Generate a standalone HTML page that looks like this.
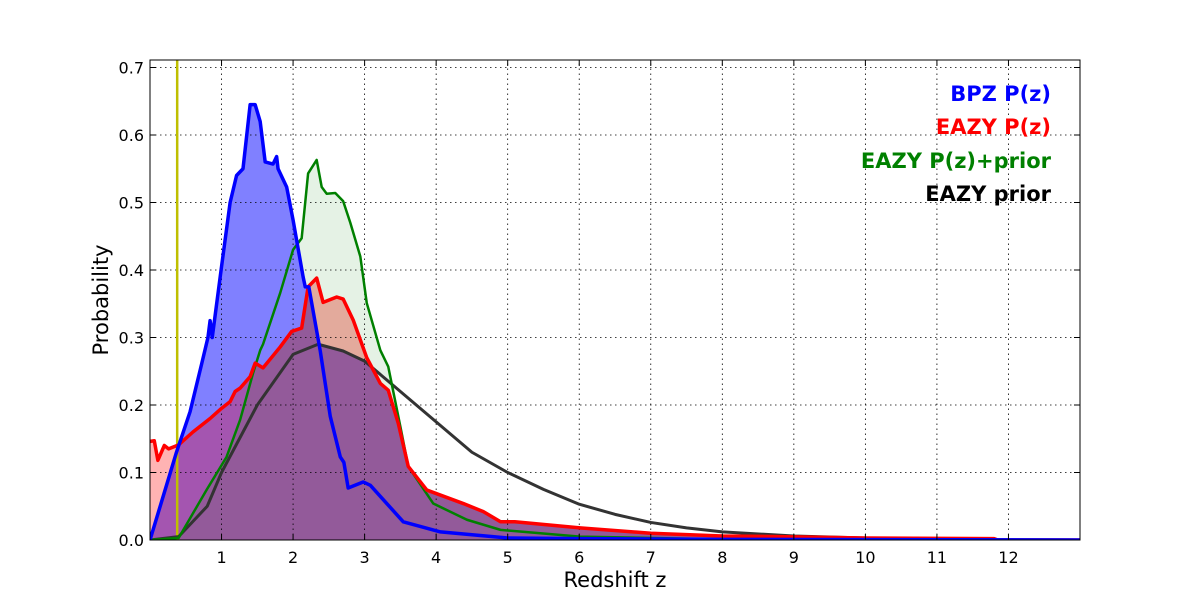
<!DOCTYPE html>
<html><head><meta charset="utf-8"><style>
html,body{margin:0;padding:0;background:#fff;}
svg{display:block;}
text{font-family:"DejaVu Sans","Liberation Sans",sans-serif;}
</style></head><body>
<svg id="chart" width="1200" height="600">
<defs><clipPath id="plotclip"><rect x="150" y="60" width="930" height="480"/></clipPath></defs>
<g id="fills" clip-path="url(#plotclip)"></g>
<g id="grid"></g>
<g id="lines" clip-path="url(#plotclip)"></g>
<rect x="150" y="60" width="930" height="480" fill="none" stroke="#000" stroke-width="1"/>
<g id="ticks"></g>
<text x="615" y="587" font-size="21" text-anchor="middle">Redshift z</text>
<text transform="translate(108,300) rotate(-90)" font-size="21" text-anchor="middle">Probability</text>
<g font-size="21" font-weight="bold" text-anchor="end">
<text x="1051" y="101" fill="#0000ff">BPZ P(z)</text>
<text x="1051" y="134" fill="#ff0000">EAZY P(z)</text>
<text x="1051" y="168" fill="#008000">EAZY P(z)+prior</text>
<text x="1051" y="201" fill="#000">EAZY prior</text>
</g>
</svg>
<script>
const xTicks=[1,2,3,4,5,6,7,8,9,10,11,12];
const yTicks=[0,0.1,0.2,0.3,0.4,0.5,0.6,0.7];
const yTickLabels=["0.0","0.1","0.2","0.3","0.4","0.5","0.6","0.7"];
const zMarker=0.38;
const bpzZ=[0,0.37,0.56,0.72,0.81,0.84,0.87,1.0,1.12,1.21,1.3,1.4,1.47,1.54,1.61,1.72,1.77,1.79,1.91,2.0,2.14,2.17,2.22,2.38,2.52,2.66,2.71,2.77,2.98,3.08,3.31,3.54,4.06,5,6,8,13];
const bpzP=[0,0.13,0.19,0.26,0.30,0.325,0.30,0.405,0.50,0.54,0.55,0.645,0.645,0.62,0.56,0.557,0.568,0.55,0.523,0.474,0.39,0.375,0.375,0.28,0.183,0.123,0.115,0.077,0.086,0.081,0.054,0.027,0.012,0.003,0.002,0.001,0];
const eazyZ=[0,0.06,0.11,0.2,0.26,0.4,0.6,0.84,1.0,1.12,1.19,1.26,1.4,1.47,1.58,1.82,1.98,2.12,2.21,2.33,2.42,2.61,2.70,2.84,3.03,3.22,3.33,3.47,3.61,3.87,4.38,4.66,4.9,5.1,6.01,7,8,8.8,10,11.8,11.85,13];
const eazyP=[0.146,0.147,0.118,0.14,0.135,0.141,0.16,0.18,0.195,0.205,0.22,0.225,0.242,0.262,0.255,0.286,0.309,0.314,0.375,0.388,0.352,0.36,0.357,0.326,0.27,0.232,0.222,0.173,0.109,0.074,0.054,0.042,0.027,0.027,0.018,0.01,0.006,0.005,0.003,0.002,0,0];
const combZ=[0,0.4,0.79,1.07,1.26,1.44,1.54,1.58,1.82,2.0,2.12,2.21,2.33,2.40,2.47,2.59,2.7,2.8,2.94,3.03,3.22,3.33,3.5,3.61,3.96,4.43,4.9,6.01,8,10.5,13];
const combP=[0,0.003,0.074,0.123,0.178,0.247,0.281,0.29,0.366,0.43,0.447,0.543,0.563,0.523,0.513,0.514,0.502,0.47,0.42,0.351,0.281,0.257,0.168,0.109,0.054,0.03,0.015,0.005,0.001,0,0];
const priorZ=[0,0.4,0.8,1.0,1.2,1.5,2.0,2.35,2.7,3.0,3.5,4,4.5,5,5.5,6,6.5,7,7.5,8,9,10,11,13];
const priorP=[0,0.005,0.05,0.1,0.14,0.2,0.275,0.29,0.28,0.265,0.22,0.175,0.13,0.1,0.075,0.053,0.038,0.026,0.018,0.012,0.006,0.003,0.001,0];

const X0=150,X1=1080,Y0=540,Y1=60,ZMAX=13,PMAX=0.7111;
const sx=z=>X0+(X1-X0)*z/ZMAX;
const sy=p=>Y0-(Y0-Y1)*p/PMAX;
const NS="http://www.w3.org/2000/svg";
function mk(tag,attrs,parent){const e=document.createElementNS(NS,tag);for(const k in attrs)e.setAttribute(k,attrs[k]);parent.appendChild(e);return e;}
function interp(zs,ps,z){if(z<=zs[0])return ps[0];for(let i=1;i<zs.length;i++){if(z<=zs[i]){const t=(z-zs[i-1])/(zs[i]-zs[i-1]);return ps[i-1]+t*(ps[i]-ps[i-1]);}}return ps[ps.length-1];}
const grid=[];for(let z=0;z<=ZMAX+1e-9;z+=0.01)grid.push(z);
const B=grid.map(z=>interp(bpzZ,bpzP,z));
const R=grid.map(z=>interp(eazyZ,eazyP,z));
const G=grid.map(z=>interp(combZ,combP,z));
const K=grid.map(z=>interp(priorZ,priorP,z));
function areaPath(vals){let d="M"+sx(0)+","+sy(0);grid.forEach((z,i)=>{d+="L"+sx(z).toFixed(2)+","+sy(vals[i]).toFixed(2);});d+="L"+sx(ZMAX)+","+sy(0)+"Z";return d;}
function linePath(zs,ps){return zs.map((z,i)=>(i?"L":"M")+sx(z).toFixed(2)+","+sy(ps[i]).toFixed(2)).join("");}
const fills=document.getElementById("fills");
let f;
f=mk("path",{d:areaPath(G),fill:"#e5f2e5"},fills);


f=mk("path",{d:areaPath(R),fill:"#ffb3b3"},fills);


f=mk("path",{d:areaPath(grid.map((z,i)=>Math.min(R[i],G[i]))),fill:"#e3aa9c"},fills);


f=mk("path",{d:areaPath(B),fill:"#8080ff"},fills);


f=mk("path",{d:areaPath(grid.map((z,i)=>Math.min(B[i],R[i]))),fill:"#a455b0"},fills);


f=mk("path",{d:areaPath(grid.map((z,i)=>Math.max(Math.min(K[i],R[i]),Math.min(B[i],R[i],G[i])))),fill:"#935a9a"},fills);



const g=document.getElementById("grid");
xTicks.forEach(t=>{const l=mk("line",{x1:sx(t),x2:sx(t),y1:Y0,y2:Y1,stroke:"#000","stroke-width":0.8,"stroke-dasharray":"1.5,3.5"},g);

});
yTicks.forEach(t=>{const l=mk("line",{x1:X0,x2:X1,y1:sy(t),y2:sy(t),stroke:"#000","stroke-width":0.8,"stroke-dasharray":"1.5,3.5"},g);

});

const lines=document.getElementById("lines");
let ln;
ln=mk("line",{x1:sx(zMarker),x2:sx(zMarker),y1:Y0,y2:Y1,stroke:"#bfbf00","stroke-width":2.5},lines);


ln=mk("path",{d:linePath(priorZ.map(z=>z),priorP),fill:"none",stroke:"#333","stroke-width":3,"stroke-linejoin":"round"},lines);


ln=mk("path",{d:linePath(combZ,combP),fill:"none",stroke:"#008000","stroke-width":2.5,"stroke-linejoin":"round"},lines);


ln=mk("path",{d:linePath(eazyZ,eazyP),fill:"none",stroke:"#ff0000","stroke-width":3.5,"stroke-linejoin":"round"},lines);


ln=mk("path",{d:linePath(bpzZ,bpzP),fill:"none",stroke:"#0000ff","stroke-width":3.5,"stroke-linejoin":"round"},lines);



const tk=document.getElementById("ticks");
xTicks.forEach(t=>{
mk("line",{x1:sx(t),x2:sx(t),y1:Y0,y2:Y0-6,stroke:"#000"},tk);
mk("line",{x1:sx(t),x2:sx(t),y1:Y1,y2:Y1+6,stroke:"#000"},tk);
const tx=mk("text",{x:sx(t),y:Y0+23,"font-size":16,"text-anchor":"middle"},tk);tx.textContent=t;

});
yTicks.forEach((t,i)=>{
mk("line",{x1:X0,x2:X0+6,y1:sy(t),y2:sy(t),stroke:"#000"},tk);
mk("line",{x1:X1,x2:X1-6,y1:sy(t),y2:sy(t),stroke:"#000"},tk);
const tx=mk("text",{x:X0-6,y:sy(t)+6,"font-size":16,"text-anchor":"end"},tk);tx.textContent=yTickLabels[i];

});
</script>
</body></html>
